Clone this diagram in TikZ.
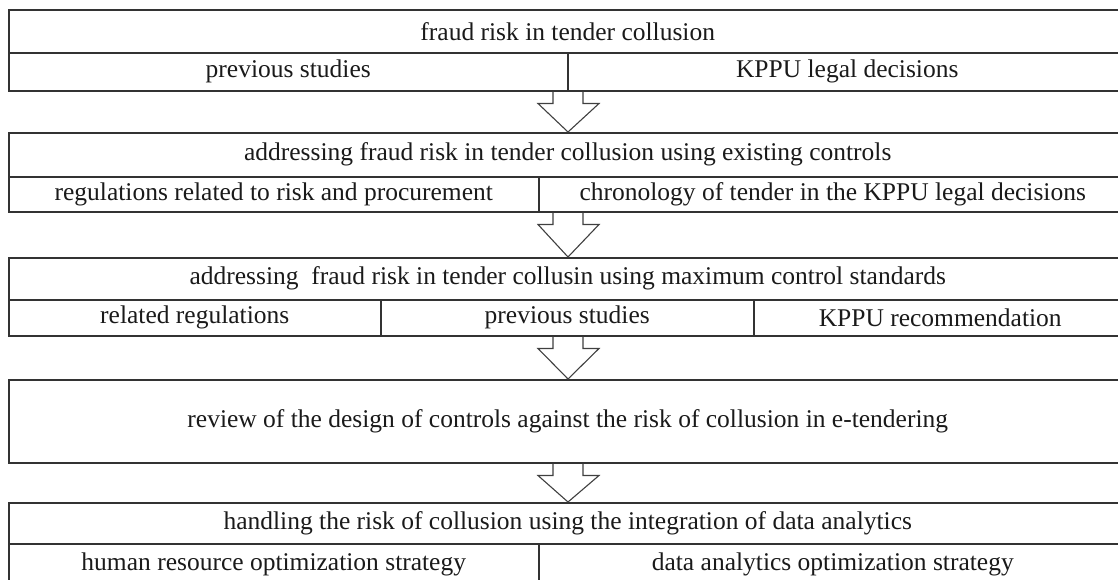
\documentclass[tikz,border=0pt]{standalone}
\usepackage{fontspec}
\setmainfont{Liberation Serif}
\usetikzlibrary{calc}
\definecolor{lc}{HTML}{333333}
\definecolor{ac}{HTML}{404040}
\definecolor{txt}{HTML}{1A1A1A}
\begin{document}
\begin{tikzpicture}[x=1pt,y=-1pt,
  cell/.style={draw=lc, line width=1.5pt, rectangle, inner sep=0pt, anchor=north west,
    font=\fontsize{25.5}{28}\selectfont, text=txt},
  blk/.style={draw=ac, line width=1.1pt, line join=miter}]
\fill[white] (0,0) rectangle (1118,579);
\useasboundingbox (0,0) rectangle (1118,579);
% box 1
\node[cell, minimum width=1118pt, minimum height=43pt] (t1) at (8,9) {fraud risk in tender collusion};
\node[cell, minimum width=559pt, minimum height=38pt] (t1a) at (8,52) {previous studies};
\node[cell, minimum width=559pt, minimum height=38pt] (t1b) at (567,52) {KPPU legal decisions};
% box 2
\node[cell, minimum width=1118pt, minimum height=44pt] (t2) at (8,132) {addressing fraud risk in tender collusion using existing controls};
\node[cell, minimum width=530pt, minimum height=35pt] (t2a) at (8,176) {regulations related to risk and procurement};
\node[cell, minimum width=588pt, minimum height=35pt] (t2b) at (538,176) {chronology of tender in the KPPU legal decisions};
% box 3
\node[cell, minimum width=1118pt, minimum height=42pt] (t3) at (8,257) {addressing~ fraud risk in tender collusin using maximum control standards};
\node[cell, minimum width=372pt, minimum height=36pt] (t3a) at (8,299) {related regulations};
\node[cell, minimum width=373pt, minimum height=36pt] (t3b) at (380,299) {previous studies};
\node[cell, minimum width=373pt, minimum height=36pt] (t3c) at (753,299) {KPPU recommendation};
% box 4
\node[cell, minimum width=1118pt, minimum height=83pt] (t4) at (8,379) {review of the design of controls against the risk of collusion in e-tendering};
% box 5
\node[cell, minimum width=1118pt, minimum height=41pt] (t5) at (8,502) {handling the risk of collusion using the integration of data analytics};
\node[cell, minimum width=530pt, minimum height=42pt] (t5a) at (8,543) {human resource optimization strategy};
\node[cell, minimum width=588pt, minimum height=42pt] (t5b) at (538,543) {data analytics optimization strategy};
% block arrows
\coordinate (ax) at (568,0);
\foreach \a/\b in {t1a/t2, t2a/t3, t3b/t4, t4/t5}{
  \draw[blk] let \p1=(ax |- \a.south), \p2=(ax |- \b.north) in
    (\x1-15pt,\y1) -- (\x1-15pt,\y1-12pt) -- (\x1-30pt,\y1-12pt) -- (\x2,\y2)
    -- (\x1+31pt,\y1-12pt) -- (\x1+15pt,\y1-12pt) -- (\x1+15pt,\y1);
}
\end{tikzpicture}
\end{document}
